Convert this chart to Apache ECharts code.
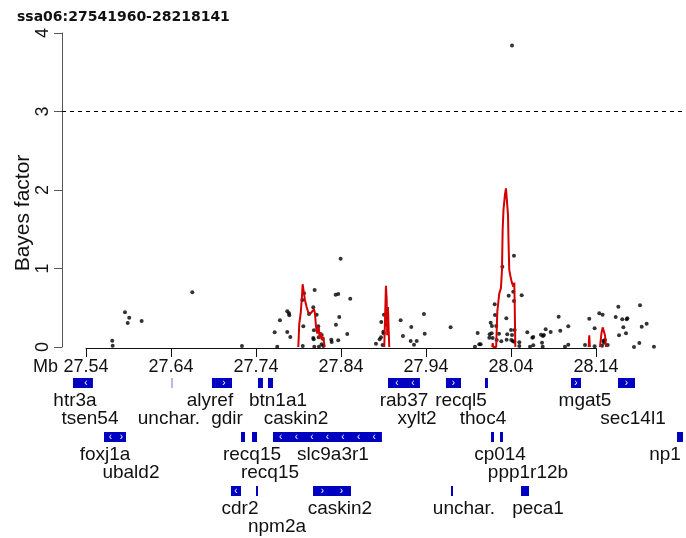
<!DOCTYPE html>
<html>
<head>
<meta charset="utf-8">
<script src="https://cdn.jsdelivr.net/npm/echarts@6/dist/echarts.min.js"></script>
<style>
  html, body { margin: 0; padding: 0; background: #fff; }
  #chart { width: 686px; height: 538px; }
</style>
</head>
<body>
<div id="chart"></div>
<script>
// region shown, in Mb
var regionTitle = 'ssa06:27541960-28218141';
var xTicks = [27.54, 27.64, 27.74, 27.84, 27.94, 28.04, 28.14];
var yTicks = [0, 1, 2, 3, 4];
var threshold = 3;

// SNP Bayes factors [Mb, BF]
var bfPoints = [
  [27.5859,0.442],[27.5909,0.373],[27.5891,0.306],[27.6055,0.331],[27.5709,0.080],[27.5714,0.017],[27.6651,0.697],[27.7235,0.013],
  [27.8396,1.125],[27.7620,0.187],[27.7650,0.004],[27.7682,0.340],[27.7768,0.455],[27.7788,0.429],[27.7792,0.403],[27.7768,0.191],[27.7804,0.127],
  [27.7945,0.599],[27.7965,0.684],[27.7957,0.263],[27.7950,0.013],[27.8024,0.420],[27.8090,0.726],[27.8074,0.505],[27.8114,0.412],[27.8082,0.212],
  [27.8133,0.263],[27.8074,0.115],[27.8079,0.098],[27.8138,0.123],[27.8173,0.153],[27.8185,0.106],[27.8173,0.034],[27.8192,0.013],[27.8086,0.004],[27.8141,0.004],
  [27.8286,0.093],[27.8291,0.064],[27.8337,0.666],[27.8368,0.675],[27.8380,0.382],[27.8341,0.284],[27.8368,0.085],[27.8474,0.166],[27.8509,0.616],
  [27.8812,0.042],[27.8855,0.098],[27.8871,0.123],[27.8874,0.318],[27.8906,0.412],[27.8898,0.195],[27.8902,0.174],[27.8890,0.025],[27.8929,0.284],
  [27.9102,0.340],[27.9129,0.140],[27.9227,0.255],[27.9220,0.076],[27.9259,0.030],[27.9291,0.076],[27.9376,0.420],[27.9385,0.170],[27.9690,0.251],
  [28.0008,0.178],[28.0027,0.034],[27.9976,0.004],
  [28.0043,0.034],[28.0298,1.023],[28.0435,1.163],[28.0373,0.654],[28.0526,0.658],[28.0427,0.705],[28.0435,0.586],[28.0208,0.543],[28.0212,0.408],
  [28.0161,0.310],[28.0176,0.268],[28.0227,0.268],[28.0345,0.365],[28.0149,0.161],[28.0173,0.174],[28.0145,0.119],[28.0184,0.115],[28.0259,0.170],
  [28.0232,0.089],[28.0286,0.072],[28.0349,0.093],[28.0356,0.161],[28.0400,0.217],[28.0443,0.217],[28.0412,0.153],[28.0404,0.089],[28.0424,0.072],
  [28.0439,0.068],[28.0498,0.060],[28.0498,0.013],[28.0624,0.002],
  [28.0592,0.187],[28.0651,0.119],[28.0662,0.127],[28.0662,0.021],[28.0765,0.055],[28.0753,0.157],[28.0776,0.140],[28.0788,0.153],[28.0808,0.225],
  [28.0867,0.191],[28.0961,0.386],[28.0980,0.208],[28.1074,0.263],[28.1074,0.030],[28.1035,0.004],[28.0773,0.004],
  [28.1321,0.361],[28.1384,0.238],[28.1271,0.025],[28.1384,0.008],[28.1439,0.429],[28.1478,0.412],[28.1486,0.080],[28.1506,0.089],[28.1494,0.055],
  [28.1538,0.025],[28.1471,0.017],
  [28.1632,0.382],[28.1663,0.513],[28.1709,0.353],[28.1761,0.353],[28.1769,0.365],[28.1722,0.251],[28.1671,0.149],[28.1753,0.174],[28.1918,0.531],
  [28.1996,0.297],[28.1938,0.259],[28.1910,0.051],[28.1847,0.000],[28.2082,0.004],
  [28.0412,3.84]
];

// smoothed BF curve, one array per peak
var peak1 = [[27.7898,0],[27.7909,0.29],[27.7926,0.43],[27.7941,0.64],[27.7949,0.80],[27.7965,0.80],[27.7976,0.60],[27.7996,0.51],
  [27.8015,0.44],[27.8044,0.43],[27.8067,0.43],[27.8082,0.48],[27.8094,0.43],[27.8106,0.26],[27.8121,0.17],[27.8138,0.26],
  [27.8149,0.11],[27.8161,0.19],[27.8176,0.09],[27.8192,0.13],[27.8208,0]];
var peak2 = [[27.8909,0],[27.8918,0.34],[27.8929,0.78],[27.8938,0.60],[27.8944,0.15],[27.8953,0.51],[27.8961,0.22],[27.8968,0]];
var peak3 = [[28.0179,0],[28.0185,0.05],[28.0191,0],[28.0226,0],[28.0232,0.22],[28.0239,0.45],[28.0262,0.68],[28.0282,0.75],
  [28.0294,0.98],[28.0302,1.49],[28.0312,1.75],[28.0329,1.94],[28.0341,2.02],[28.0355,2.00],[28.0365,1.68],[28.0372,1.30],
  [28.0380,0.98],[28.0394,0.90],[28.0408,0.83],[28.0427,0.77],[28.0439,0.82],[28.0443,0.60],[28.0451,0]];
var peak4 = [[28.1314,0],[28.1321,0.15],[28.1328,0]];
var peak5 = [[28.1447,0],[28.1465,0.18],[28.1479,0.25],[28.1498,0.26],[28.1506,0.15],[28.1518,0]];

// gene track: name, start, end (Mb), row, label line, label centre (Mb), strand, faint
var geneName   = ['htr3a','tsen54','unchar.','alyref','gdir','btn1a1','caskin2','rab37','xylt2','recql5','thoc4','mgat5','sec14l1',
                  'foxj1a','ubald2','recq15','recq15','slc9a3r1','cp014','ppp1r12b','np1',
                  'cdr2','npm2a','caskin2','unchar.','peca1'];
var geneStart  = [27.5247,27.5318,27.6400,27.6882,27.6929,27.7424,27.7541,27.8953,27.9165,27.9635,28.0094,28.1106,28.1659,
                  27.5612,27.5765,27.7224,27.7353,27.7600,28.0165,28.0271,28.2353,
                  27.7106,27.7400,27.8071,27.9694,28.0518];
var geneEnd    = [27.5318,27.5482,27.6424,27.6929,27.7118,27.7482,27.7600,27.9165,27.9329,27.9812,28.0129,28.1224,28.1859,
                  27.5765,27.5871,27.7271,27.7412,27.8882,28.0200,28.0306,28.2424,
                  27.7224,27.7424,27.8518,27.9718,28.0612];
var geneRow    = [0,0,0,0,0,0,0,0,0,0,0,0,0, 1,1,1,1,1,1,1,1, 2,2,2,2,2];
var geneLine   = [1,2,2,1,2,1,2,1,2,1,2,1,2, 1,2,1,2,1,1,2,1, 1,2,1,1,1];
var geneLabelX = [27.5271,27.5447,27.6376,27.6859,27.7059,27.7659,27.7871,27.9141,27.9294,27.9812,28.0071,28.1271,28.1835,
                  27.5624,27.5929,27.7353,27.7565,27.8306,28.0271,28.0600,28.2212,
                  27.7212,27.7647,27.8388,27.9847,28.0718];
var geneStrand = [0,-1,0,0,1,0,0,-1,-1,1,0,1,1, -1,1,0,0,-1,0,0,0, -1,0,1,0,-1];
var geneFaint  = [0,0,1,0,0,0,0,0,0,0,0,0,0, 0,0,0,0,0,0,0,0, 0,0,0,0,0];

var xMin = 27.5118, xMax = 28.2459;
var font = '"Liberation Sans", Arial, sans-serif';

var bfCurve = [];
[peak1, peak2, peak3, peak4, peak5].forEach(function (p, i) {
  if (i > 0) bfCurve.push(null);
  bfCurve = bfCurve.concat(p);
});

var geneData = geneName.map(function (n, i) {
  return [geneStart[i], geneEnd[i], geneRow[i], geneLabelX[i], geneLine[i], geneStrand[i], geneFaint[i], n];
});

var chart = echarts.init(document.getElementById('chart'), null, { renderer: 'canvas' });

chart.setOption({
  animation: false,
  backgroundColor: '#fff',
  title: {
    text: regionTitle, left: 12, top: 5,
    textStyle: { fontFamily: '"DejaVu Sans", Verdana, sans-serif', fontWeight: 'bold', fontSize: 14, color: '#111' }
  },
  graphic: [
    { type: 'text', x: 23, y: 213, rotation: Math.PI / 2,
      style: { text: 'Bayes factor', font: '21px ' + font, fill: '#111', align: 'center', verticalAlign: 'middle' } },
    { type: 'text', x: 58, y: 367,
      style: { text: 'Mb', font: '18px ' + font, fill: '#111', align: 'right', verticalAlign: 'middle' } }
  ],
  grid: [
    { left: 62, width: 624, top: 33, height: 314 },
    { left: 86, width: 510, top: 340, height: 8 },
    { left: 62, width: 624, top: 365, height: 162 }
  ],
  xAxis: [
    { gridIndex: 0, type: 'value', min: xMin, max: xMax, show: false },
    { gridIndex: 1, type: 'value', min: xTicks[0], max: xTicks[xTicks.length - 1], interval: 0.1,
      axisLine: { show: true, lineStyle: { color: '#111', width: 1 } },
      axisTick: { show: true, length: 9, lineStyle: { color: '#111' } },
      axisLabel: { fontSize: 18, fontFamily: font, color: '#111', margin: 10,
        formatter: function (v) { return v.toFixed(2); } },
      splitLine: { show: false } },
    { gridIndex: 2, type: 'value', min: xMin, max: xMax, show: false }
  ],
  yAxis: [
    { gridIndex: 0, type: 'value', min: yTicks[0], max: yTicks[yTicks.length - 1], interval: 1,
      axisLine: { show: true, lineStyle: { color: '#555', width: 1 } },
      axisTick: { show: true, length: 8, lineStyle: { color: '#555' } },
      axisLabel: { rotate: 90, fontSize: 18, fontFamily: font, color: '#111', margin: 10 },
      splitLine: { show: false } },
    { gridIndex: 1, type: 'value', show: false },
    { gridIndex: 2, type: 'value', inverse: true, min: -1, max: 8, show: false }
  ],
  series: [
    {
      type: 'scatter', xAxisIndex: 0, yAxisIndex: 0, data: bfPoints,
      symbolSize: 4, itemStyle: { color: '#000' }, clip: false,
      markLine: {
        silent: true, symbol: 'none', label: { show: false },
        lineStyle: { color: '#000', type: [4, 4], width: 1 },
        data: [{ yAxis: threshold }]
      }
    },
    {
      type: 'line', xAxisIndex: 0, yAxisIndex: 0, data: bfCurve,
      showSymbol: false, connectNulls: false, z: 3,
      lineStyle: { color: '#d40000', width: 2 }
    },
    {
      type: 'custom', xAxisIndex: 2, yAxisIndex: 2, data: geneData, clip: false,
      renderItem: function (params, api) {
        var lane = api.value(2) * 3;
        var s = api.coord([api.value(0), lane]);
        var e = api.coord([api.value(1), lane]);
        var l = api.coord([api.value(3), lane + api.value(4)]);
        var w = Math.max(e[0] - s[0], 2);
        var kids = [{
          type: 'rect',
          shape: { x: s[0], y: s[1] - 5, width: w, height: 10 },
          style: { fill: api.value(6) ? '#b8b8f0' : '#0000c0' }
        }, {
          type: 'text',
          style: { text: geneName[params.dataIndex], x: l[0], y: l[1], align: 'center', verticalAlign: 'middle',
            font: '19px ' + font, fill: '#111' }
        }];
        var strand = api.value(5);
        if (strand !== 0 && w >= 8) {
          var n = Math.max(1, Math.floor(w / 15));
          for (var k = 0; k < n; k++) {
            kids.push({
              type: 'text',
              style: { text: strand > 0 ? '\u203A' : '\u2039', x: s[0] + (k + 0.5) * w / n, y: s[1],
                align: 'center', verticalAlign: 'middle', font: '10px ' + font, fill: '#fff' }
            });
          }
        }
        return { type: 'group', children: kids };
      }
    }
  ]
});
</script>
</body>
</html>
